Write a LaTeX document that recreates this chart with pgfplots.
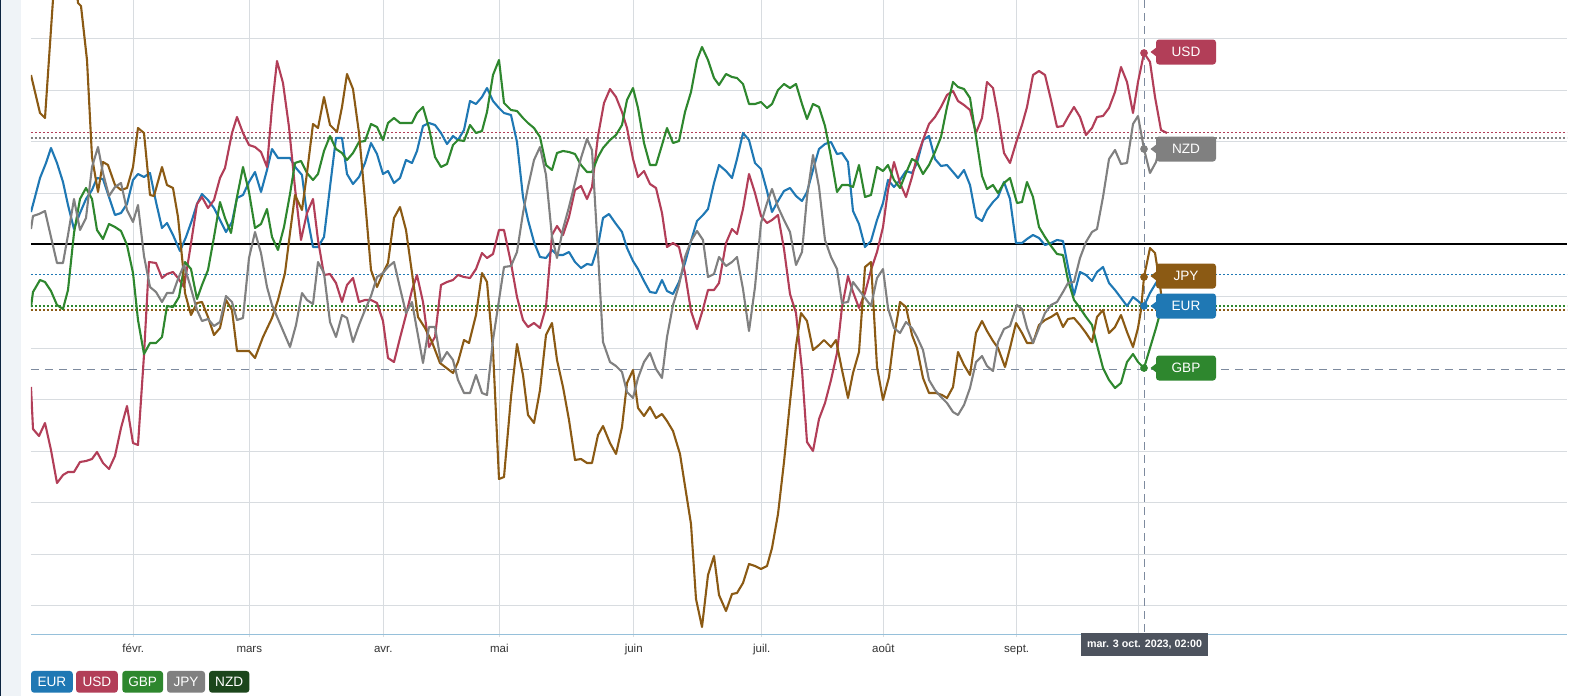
\documentclass[border=0pt]{standalone}
\usepackage{fontspec}
\setmainfont{Liberation Sans}
\usepackage{pgfplots}
\pgfplotsset{compat=1.18}
\definecolor{eur}{RGB}{31,120,180}
\definecolor{usd}{RGB}{178,62,88}
\definecolor{gbp}{RGB}{46,135,46}
\definecolor{jpy}{RGB}{139,90,20}
\definecolor{nzd}{RGB}{128,128,128}
\definecolor{nzdleg}{RGB}{28,70,28}
\definecolor{gridc}{RGB}{216,220,224}
\definecolor{axisc}{RGB}{150,192,218}
\definecolor{cross}{RGB}{125,138,158}
\definecolor{tipbg}{RGB}{77,83,94}
\definecolor{navy}{RGB}{12,36,64}
\definecolor{sidebg}{RGB}{239,243,247}
\definecolor{labc}{RGB}{51,51,51}
\newcommand\tagbox[3]{%
  \fill[#2] ([yshift=5pt]axis cs:1157,#1) -- (axis cs:1150.5,#1) -- ([yshift=-5pt]axis cs:1157,#1) -- cycle;
  \node[fill=#2, text=white, rounded corners=3pt, minimum width=60pt, minimum height=25pt, inner sep=0pt,
        font=\fontsize{13.6}{15}\selectfont] at (axis cs:1186,#1) {#3};}
\begin{document}
\begin{tikzpicture}[x=1pt,y=1pt]
\useasboundingbox (0,0) rectangle (1577,696);
\fill[white] (0,0) rectangle (1577,696);
\fill[sidebg] (1,0) rectangle (21,696);
\fill[navy] (0,0) rectangle (1.3,696);
\begin{axis}[
  at={(31pt,62pt)}, anchor=south west, scale only axis,
  width=1536pt, height=634pt,
  xmin=31, xmax=1567, ymin=0, ymax=634, y dir=reverse,
  xtick={133.3,249.3,383.3,499.3,633.7,761.7,883.3,1016.7,1138.3},
  xticklabels={févr.,mars,avr.,mai,juin,juil.,août,sept.,{}},
  ytick={38.3,90,141.3,193.3,296,348.3,399.3,451,502.3,554.3,605.3},
  yticklabels={},
  xmajorgrids, ymajorgrids,
  grid style={draw=gridc, line width=1pt},
  axis x line*=bottom, axis y line*=left,
  x axis line style={draw=axisc, line width=1pt},
  y axis line style={draw=none},
  major y tick style={draw=none},
  major x tick style={draw=gridc, line width=1pt},
  tick align=outside, major tick length=3pt,
  typeset ticklabels with strut,
  xticklabel style={font=\fontsize{11.5}{13}\selectfont, text=labc, inner sep=2pt, yshift=-4pt},
  clip mode=individual,
]
% reference levels
\addplot[usd, line width=1.2pt, dash pattern=on 2pt off 2pt] coordinates {(31,132.7)(1567,132.7)};
\addplot[nzd, line width=1.2pt, dash pattern=on 2pt off 2pt] coordinates {(31,138)(1567,138)};
\addplot[eur, line width=1.2pt, dash pattern=on 2pt off 2pt] coordinates {(31,274.3)(1567,274.3)};
\addplot[gbp, line width=1.2pt, dash pattern=on 2pt off 2pt] coordinates {(31,306)(1567,306)};
\addplot[jpy, line width=1.2pt, dash pattern=on 2pt off 2pt] coordinates {(31,310)(1567,310)};
\addplot[black, line width=2.2pt] coordinates {(31,244)(1567,244)};
\addplot[cross, line width=1.1pt, dash pattern=on 8pt off 6pt] coordinates {(31,369.3)(1567,369.3)};
\addplot[cross, line width=1pt, dash pattern=on 8pt off 5pt] coordinates {(1144,0)(1144,634)};
% EUR
\addplot[eur, line width=2.1pt, line join=round] coordinates {
(31,212)(35,197)(40,178)(46,163)(51,148)(57,163)(63,182)(68,205)(74,229)(80,213)(86,199)(92,190)(97,178)(103,179)(109,197)(115,215)(121,213)(127,204)(133,180)(138,174)(144,177)(150,173)(156,202)(162,228)(167,223)(173,235)(180,251)(186,237)(192,220)(197,204)(202,194)(208,200)(214,208)(220,220)(226,232)(232,222)(237,198)(243,195)(249,182)(255,172)(261,192)(267,170)(272,149)(278,158)(284,158)(290,158)(296,168)(302,175)(307,215)(313,247)(318,247)(324,237)(330,187)(336,138)(342,138)(347,174)(353,184)(359,177)(365,163)(371,143)(377,154)(383,174)(388,171)(394,183)(400,178)(406,160)(412,163)(417,151)(423,126)(429,123)(435,125)(441,133)(447,144)(453,136)(458,140)(464,130)(470,101)(476,104)(482,97)(487,88)(493,101)(499,108)(504,113)(511,115)(517,142)(523,197)(528,220)(534,242)(540,257)(546,258)(552,250)(557,255)(563,255)(569,252)(575,262)(581,268)(587,264)(592,265)(598,246)(603,218)(609,214)(616,224)(622,232)(627,248)(633,261)(638,269)(644,281)(650,292)(656,293)(662,280)(667,291)(673,294)(679,282)(685,263)(691,241)(697,221)(703,215)(708,209)(714,183)(719,165)(726,171)(732,178)(737,159)(743,133)(749,140)(755,163)(761,169)(767,191)(772,212)(778,201)(784,191)(790,188)(796,196)(802,201)(807,192)(813,170)(819,149)(825,144)(831,142)(837,154)(842,153)(848,162)(853,211)(859,224)(865,247)(871,241)(877,220)(883,203)(888,180)(894,187)(900,180)(906,171)(912,173)(917,163)(923,140)(929,136)(935,159)(941,166)(947,165)(953,172)(958,178)(964,170)(970,185)(976,217)(982,221)(987,210)(993,202)(998,197)(1004,182)(1010,199)(1016,243)(1022,243)(1027,239)(1033,235)(1039,238)(1045,245)(1051,243)(1057,240)(1063,241)(1068,267)(1074,295)(1080,272)(1086,275)(1092,281)(1097,272)(1103,267)(1109,283)(1115,290)(1121,298)(1127,306)(1133,297)(1138,301)(1144,306)(1150,293)(1156,283)(1162,274)};
% USD
\addplot[usd, line width=2.1pt, line join=round] coordinates {
(31,387)(33,429)(39,436)(45,423)(51,450)(57,483)(63,475)(68,472)(74,472)(80,462)(86,461)(92,459)(97,452)(103,463)(109,469)(115,456)(121,428)(127,406)(133,443)(138,445)(144,355)(149,262)(156,263)(162,278)(167,274)(173,272)(178,278)(184,287)(190,250)(197,204)(202,197)(208,208)(214,200)(220,178)(225,168)(232,133)(237,117)(243,133)(249,145)(255,147)(261,152)(267,167)(272,107)(277,61)(283,83)(289,127)(295,188)(301,240)(307,213)(313,199)(318,240)(324,275)(330,274)(336,283)(342,302)(347,285)(353,278)(359,302)(365,300)(371,300)(377,303)(383,321)(388,358)(394,362)(400,338)(406,315)(412,290)(417,275)(423,302)(429,347)(435,337)(441,285)(447,282)(453,280)(458,275)(464,277)(470,278)(476,269)(482,253)(487,258)(493,254)(499,230)(504,230)(511,263)(517,297)(523,320)(528,327)(534,323)(540,328)(546,307)(552,235)(557,226)(563,235)(569,217)(575,190)(581,186)(587,199)(592,187)(598,136)(604,103)(610,89)(616,97)(622,112)(627,128)(633,159)(638,177)(644,171)(650,184)(656,188)(662,213)(667,247)(673,243)(679,247)(685,273)(691,311)(697,329)(703,309)(708,290)(714,290)(719,283)(726,243)(732,229)(737,234)(743,209)(749,174)(755,193)(761,216)(767,223)(772,220)(778,215)(784,249)(790,294)(796,313)(802,370)(807,442)(813,451)(819,419)(825,403)(831,380)(837,353)(842,307)(848,276)(853,292)(859,308)(865,293)(871,270)(877,252)(883,227)(888,190)(894,162)(900,183)(906,197)(912,177)(917,157)(923,140)(929,124)(935,117)(941,107)(947,95)(953,91)(958,101)(964,105)(970,110)(976,133)(982,118)(987,82)(993,88)(998,115)(1004,153)(1010,163)(1016,143)(1022,125)(1027,107)(1033,75)(1039,71)(1045,75)(1051,100)(1057,127)(1063,126)(1068,117)(1074,107)(1080,117)(1086,135)(1092,128)(1097,117)(1103,116)(1109,108)(1115,92)(1121,67)(1127,82)(1133,113)(1138,82)(1144,53)(1150,62)(1155,97)(1161,130)(1167,133)};
% GBP
\addplot[gbp, line width=2.1pt, line join=round] coordinates {
(31,307)(33,292)(40,280)(45,282)(51,291)(57,305)(63,309)(68,290)(74,233)(80,199)(86,188)(92,199)(97,230)(103,239)(109,224)(115,227)(121,231)(127,245)(133,273)(138,320)(144,354)(150,343)(156,343)(162,337)(167,306)(173,307)(179,297)(185,262)(191,269)(197,299)(202,285)(208,270)(214,237)(220,202)(225,218)(231,233)(237,197)(243,167)(249,192)(255,228)(261,224)(267,209)(272,237)(278,250)(284,227)(290,194)(295,163)(301,161)(307,173)(313,180)(318,174)(324,151)(330,136)(336,149)(342,153)(347,160)(353,153)(359,142)(365,141)(371,124)(377,127)(383,140)(388,123)(394,118)(400,123)(406,123)(412,123)(417,113)(423,107)(429,128)(435,157)(441,167)(447,164)(453,145)(458,140)(464,141)(470,125)(476,133)(482,131)(487,112)(493,75)(499,60)(504,103)(511,110)(517,111)(523,118)(528,123)(534,128)(540,137)(546,165)(552,170)(557,153)(563,151)(569,152)(575,154)(581,165)(587,172)(592,172)(598,157)(603,148)(610,140)(616,135)(622,125)(627,100)(633,88)(638,108)(644,143)(650,165)(656,165)(662,145)(667,128)(673,143)(679,141)(685,112)(691,92)(697,60)(702,47)(708,60)(714,78)(719,85)(726,74)(732,77)(737,78)(743,84)(749,104)(755,104)(761,102)(767,108)(772,104)(778,90)(784,84)(790,88)(796,84)(802,104)(807,119)(813,104)(819,107)(825,126)(831,157)(837,192)(842,185)(848,185)(853,187)(859,165)(865,197)(871,195)(877,167)(883,171)(888,165)(894,180)(900,188)(906,173)(912,159)(917,162)(923,174)(929,165)(935,152)(941,137)(947,107)(953,82)(958,87)(964,89)(970,98)(976,137)(982,176)(987,189)(993,185)(998,193)(1004,183)(1010,178)(1017,203)(1022,202)(1027,182)(1033,197)(1039,227)(1045,237)(1051,246)(1057,254)(1063,255)(1068,280)(1074,300)(1080,308)(1086,317)(1092,325)(1097,345)(1103,368)(1109,380)(1115,388)(1121,383)(1127,362)(1133,354)(1138,362)(1144,368)(1150,348)(1156,328)(1162,306)};
% JPY (brown)
\addplot[jpy, line width=2.1pt, line join=round] coordinates {
(31,75)(40,113)(45,118)(55,-30)(75,-30)(78,3)(81,6)(87,60)(92,157)(98,192)(103,162)(108,165)(115,185)(121,190)(127,188)(133,167)(138,128)(144,133)(150,195)(154,196)(162,167)(167,185)(173,188)(178,217)(183,267)(185,293)(191,315)(197,303)(202,302)(208,317)(214,335)(220,328)(226,300)(232,310)(237,351)(249,351)(255,358)(263,337)(272,318)(278,300)(285,273)(290,233)(295,195)(302,210)(307,173)(313,124)(318,128)(324,97)(330,125)(337,132)(342,107)(347,74)(353,89)(359,133)(365,200)(371,270)(377,287)(383,273)(388,263)(394,218)(400,207)(406,230)(412,273)(418,317)(425,328)(432,342)(440,363)(453,373)(458,362)(464,340)(469,343)(476,315)(482,273)(487,282)(493,350)(499,479)(504,477)(511,397)(517,344)(523,375)(528,415)(534,423)(540,390)(546,335)(552,323)(557,360)(563,387)(569,420)(575,460)(581,459)(587,463)(592,463)(598,435)(603,426)(610,443)(616,454)(622,427)(627,383)(633,370)(638,408)(644,416)(650,407)(656,418)(662,414)(667,421)(673,431)(680,454)(685,486)(691,524)(696,599)(702,627)(708,575)(714,556)(719,595)(726,611)(732,594)(737,593)(743,583)(749,564)(755,566)(761,569)(767,566)(772,548)(778,514)(784,462)(790,402)(796,346)(801,313)(807,321)(813,350)(819,345)(824,340)(831,347)(836,340)(842,370)(848,398)(853,373)(859,352)(865,267)(871,262)(877,367)(883,400)(889,377)(894,337)(900,302)(906,307)(912,335)(917,348)(923,378)(929,393)(936,393)(942,395)(947,398)(953,387)(958,352)(964,365)(970,375)(976,333)(982,321)(987,331)(993,341)(998,348)(1005,367)(1010,348)(1016,323)(1022,333)(1027,343)(1033,343)(1039,325)(1045,320)(1051,317)(1057,313)(1063,327)(1068,319)(1074,318)(1080,325)(1086,333)(1092,342)(1097,317)(1103,310)(1109,333)(1115,327)(1121,315)(1127,332)(1133,347)(1138,328)(1141,310)(1144,277)(1150,248)(1155,253)(1160,285)(1163,310)};
% NZD (gray)
\addplot[nzd, line width=2.1pt, line join=round] coordinates {
(31,229)(33,216)(39,214)(45,211)(51,237)(57,263)(63,263)(68,235)(74,199)(80,230)(86,218)(92,167)(98,147)(103,173)(109,196)(115,187)(121,183)(127,210)(133,222)(138,205)(144,256)(150,287)(156,292)(162,302)(167,293)(173,293)(178,279)(184,265)(190,285)(197,310)(202,321)(208,319)(214,326)(220,322)(226,296)(232,302)(237,320)(243,318)(249,258)(255,232)(261,253)(267,287)(272,305)(278,319)(284,333)(290,347)(296,325)(302,293)(307,300)(313,304)(318,262)(324,273)(330,322)(336,337)(342,315)(347,318)(353,342)(359,325)(365,310)(371,296)(377,277)(383,273)(388,267)(394,262)(400,288)(406,313)(412,302)(417,330)(423,363)(429,327)(435,327)(441,362)(447,352)(453,360)(458,380)(464,393)(470,393)(476,375)(482,393)(487,395)(493,340)(499,300)(504,267)(511,266)(517,252)(523,213)(528,187)(534,160)(540,147)(546,175)(552,237)(557,258)(563,229)(569,207)(575,183)(581,158)(587,139)(592,150)(598,253)(603,342)(610,362)(616,366)(622,372)(627,392)(633,398)(638,378)(644,362)(650,353)(656,369)(662,378)(667,337)(673,305)(679,285)(685,257)(691,241)(697,231)(703,240)(708,277)(714,274)(719,257)(726,266)(732,262)(737,257)(743,289)(749,331)(755,287)(761,223)(767,203)(772,189)(778,207)(784,220)(790,232)(796,265)(802,252)(807,197)(813,155)(819,187)(825,240)(831,257)(837,269)(842,303)(848,302)(853,282)(859,290)(865,298)(871,306)(877,278)(883,269)(888,308)(894,328)(900,333)(906,322)(912,328)(917,337)(923,350)(929,380)(935,390)(941,397)(947,403)(953,412)(958,415)(964,405)(970,388)(976,362)(982,356)(987,366)(993,371)(998,342)(1004,329)(1010,326)(1017,305)(1022,309)(1027,328)(1033,343)(1039,328)(1045,313)(1051,305)(1057,302)(1063,292)(1068,283)(1074,282)(1080,258)(1086,242)(1092,232)(1097,229)(1103,197)(1109,159)(1115,150)(1121,164)(1127,163)(1133,124)(1138,116)(1144,149)(1150,173)(1156,162)(1162,138)};
% hover markers
\addplot[only marks, mark=*, mark size=3.6pt, mark options={draw=usd, fill=usd}] coordinates {(1144,53)};
\addplot[only marks, mark=*, mark size=3.6pt, mark options={draw=nzd, fill=nzd}] coordinates {(1144,149)};
\addplot[only marks, mark=*, mark size=3.6pt, mark options={draw=jpy, fill=jpy}] coordinates {(1144,277)};
\addplot[only marks, mark=*, mark size=3.6pt, mark options={draw=eur, fill=eur}] coordinates {(1144,306)};
\addplot[only marks, mark=*, mark size=3.6pt, mark options={draw=gbp, fill=gbp}] coordinates {(1144,368)};
\tagbox{52}{usd}{USD}
\tagbox{149}{nzd}{NZD}
\tagbox{276}{jpy}{JPY}
\tagbox{306}{eur}{EUR}
\tagbox{368}{gbp}{GBP}
\end{axis}
% tooltip
\node[fill=tipbg, minimum width=127pt, minimum height=22.7pt, inner sep=0pt, text=white,
      font=\bfseries\fontsize{10.7}{12}\selectfont] at (1144.5,51.4) {mar. 3 oct. 2023, 02:00};
% legend
\tikzset{leg/.style={fill=#1, rounded corners=3pt, minimum height=21.7pt, inner sep=0pt, text=white,
      font=\fontsize{13.6}{15}\selectfont}}
\node[leg=eur, minimum width=41.7pt] at (51.9,14.2) {EUR};
\node[leg=usd, minimum width=41.7pt] at (96.9,14.2) {USD};
\node[leg=gbp, minimum width=40.7pt] at (142.7,14.2) {GBP};
\node[leg=nzd, minimum width=38pt] at (186,14.2) {JPY};
\node[leg=nzdleg, minimum width=40.3pt] at (229.2,14.2) {NZD};
\end{tikzpicture}
\end{document}
